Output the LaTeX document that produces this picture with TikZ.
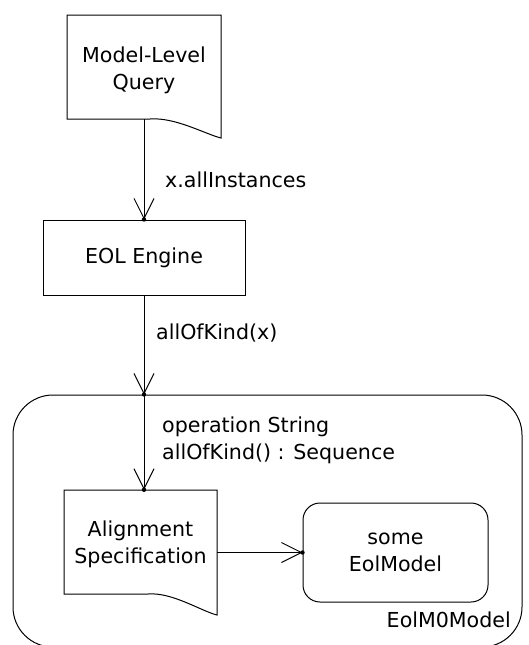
\documentclass[tikz,border=0pt]{standalone}
\usepackage{fontspec}
\setmainfont{DejaVu Sans}
\usetikzlibrary{arrows.meta}
\begin{document}
\begin{tikzpicture}[x=1pt,y=-1pt,
  every node/.style={font=\fontsize{20.6}{27}\selectfont, inner sep=0pt},
  line/.style={line width=1pt},
  arr/.style={line width=1pt, -{Straight Barb[length=20pt,width=20pt,line width=1pt]}},
  dot/.style={fill=black},
  box/.style={draw, line width=1pt, rectangle, align=center},
  docnode/.style={rectangle},
  lbl/.style={anchor=west, align=left}]
\useasboundingbox (0,0) rectangle (528,645);
\clip (0,0) rectangle (528,645);

% container
\node[draw, line width=1pt, rounded corners=40pt, minimum width=509pt, minimum height=252pt] (cont) at (267.5,521) {};
\node[anchor=east] (contlbl) at (511,620) {EolM0Model};

% Model-Level Query document
\node[docnode, minimum width=154pt, minimum height=104pt,
  label={[align=center, yshift=-3pt]center:Model-Level\\Query}] (mlq) at (144,67) {};
\draw[line] (67,119) -- (67,15) -- (221,15) -- (221,138)
  .. controls (205,134) and (175,117) .. (150,119) -- cycle;

% EOL Engine
\node[box, minimum width=202pt, minimum height=75pt] (eol) at (144,257.5) {EOL Engine};

% Alignment Specification document
\node[docnode, minimum width=153pt, minimum height=104pt,
  label={[align=center, yshift=-2pt]center:Alignment\\Specification}] (align) at (140.5,542) {};
\draw[line] (64,594) -- (64,490) -- (217,490) -- (217,615)
  .. controls (201,611) and (172,592) .. (148,594) -- cycle;

% some EolModel
\node[box, rounded corners=17pt, minimum width=185pt, minimum height=99pt] (some) at (395.5,552.5) {some\\EolModel};

% connectors
\coordinate (entry) at (eol.south |- cont.north);
\draw[arr] (mlq.south -| eol.north) -- (eol.north);
\draw[arr] (eol.south) -- (entry);
\draw[arr] (entry) -- (entry |- align.north);
\draw[arr] (some.west -| align.east) -- (some.west);
\fill[dot] (eol.north) circle (2.2pt);
\fill[dot] (entry) circle (2.2pt);
\fill[dot] (entry |- align.north) circle (2.2pt);
\fill[dot] (some.west) circle (2.2pt);

% labels
\node[lbl] (l1) at (165,180) {x.allInstances};
\node[lbl] (l2) at (156,333) {allOfKind(x)};
\node[lbl] (l3) at (162,440) {operation String\\allOfKind() : Sequence};
\end{tikzpicture}
\end{document}
